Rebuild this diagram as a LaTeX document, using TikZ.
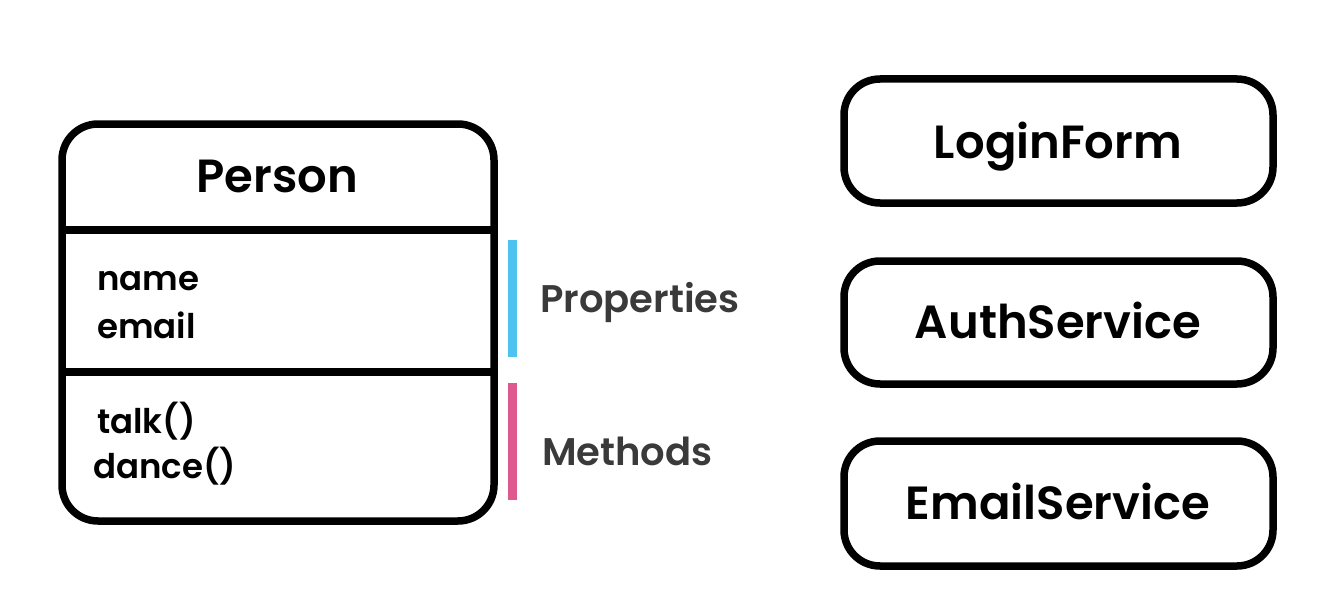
\documentclass[tikz,border=0pt]{standalone}
\usepackage{fontspec}
\setmainfont{Poppins}[UprightFont=* SemiBold]
\begin{document}
\begin{tikzpicture}[x=1pt,y=-1pt,
  boxline/.style={line width=7.5pt,draw=black,rounded corners=36pt},
  title/.style={font=\fontsize{46.5}{50}\selectfont,anchor=base,inner sep=0pt},
  item/.style={font=\fontsize{34}{40}\selectfont,anchor=base west,inner sep=0pt},
  label/.style={font=\fontsize{38.5}{44}\selectfont,anchor=base west,inner sep=0pt,text=labelgray}]
\definecolor{labelgray}{HTML}{3A3A3A}
\definecolor{propblue}{HTML}{4FC3F0}
\definecolor{methpink}{HTML}{DE5A8E}
\useasboundingbox (0,0) rectangle (1326,602);
% Person class box
\draw[boxline] (62,124) rectangle (494,521);
\draw[line width=7.5pt] (62,230) coordinate (d1l) -- (494,230) coordinate (d1r);
\draw[line width=7.5pt] (62,372) coordinate (d2l) -- (494,372) coordinate (d2r);
\node[title] (person) at (277,192) {Person};
\node[item] (name) at (97,290) {name};
\node[item] (email) at (97,338) {email};
\node[item] (talk) at (97,433) {talk()};
\node[item] (dance) at (93,478) {dance()};
% bars
\fill[propblue] (507.5,240) rectangle (517,357);
\fill[methpink] (507.5,383) rectangle (517,500);
\node[label] (props) at (540,312) {Properties};
\node[label] (meths) at (542,465) {Methods};
% right boxes
\draw[boxline] (844,79) rectangle (1273,203);
\draw[boxline] (844,261) rectangle (1273,384);
\draw[boxline] (844,441) rectangle (1273,566);
\node[title] (login) at (1058,158) {LoginForm};
\node[title] (auth) at (1058,338) {AuthService};
\node[title] (emailsvc) at (1058,519) {EmailService};
\end{tikzpicture}
\end{document}
